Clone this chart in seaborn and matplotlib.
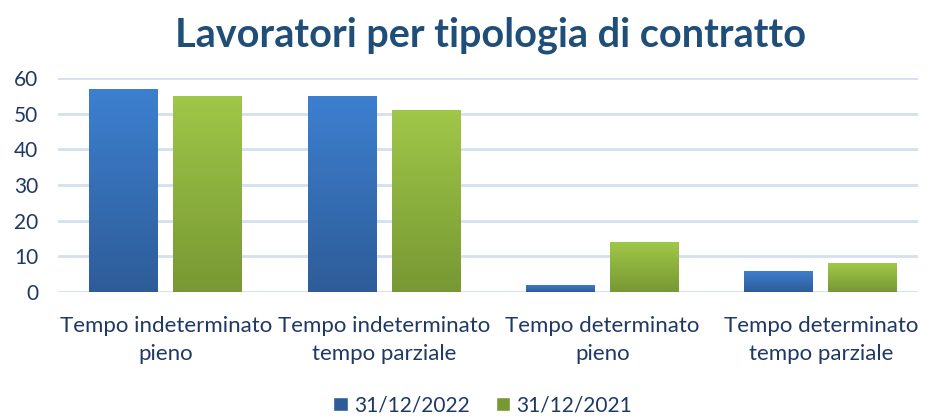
import numpy as np
import pandas as pd
import matplotlib
matplotlib.use("Agg")
import matplotlib.pyplot as plt
import seaborn as sns
from matplotlib.colors import LinearSegmentedColormap
from matplotlib.patches import Patch

categories = ["Tempo indeterminato\npieno", "Tempo indeterminato\ntempo parziale",
              "Tempo determinato\npieno", "Tempo determinato\ntempo parziale"]
series_names = ["31/12/2022", "31/12/2021"]
values_2022 = [57, 55, 2, 6]
values_2021 = [55, 51, 14, 8]
y_ticks = [0, 10, 20, 30, 40, 50, 60]

df = pd.DataFrame({
    "cat": categories * 2,
    "serie": [series_names[0]] * 4 + [series_names[1]] * 4,
    "val": values_2022 + values_2021,
})

sns.set_theme(style="white")
plt.rcParams["font.family"] = ["Lato", "DejaVu Sans"]

text_col = "#1F3864"
fig = plt.figure(figsize=(9.3, 4.19), dpi=100)
ax = fig.add_axes([0.062, 0.303, 0.925, 0.511])

palette = {series_names[0]: "#3A78C4", series_names[1]: "#8DB33F"}
sns.barplot(data=df, x="cat", y="val", hue="serie", palette=palette, ax=ax,
            width=0.77, gap=0.18, legend=False, saturation=1, zorder=3)

grads = {series_names[0]: ("#3D80D0", "#2E5C99"), series_names[1]: ("#A0C748", "#779833")}
xlim = (-0.495, 3.445)
ax.set_ylim(0, 60)
ax.set_xlim(*xlim)
for cont, name in zip(ax.containers, series_names):
    top, bot = grads[name]
    cmap = LinearSegmentedColormap.from_list("g", [bot, top])
    for p in cont.patches:
        x0, y0 = p.get_x(), p.get_y()
        w, h = p.get_width(), p.get_height()
        grad = np.linspace(0, 1, 256).reshape(-1, 1)
        im = ax.imshow(grad, cmap=cmap, origin="lower", aspect="auto",
                       extent=[x0, x0 + w, y0, y0 + h], zorder=4)
        im.set_clip_path(p)
        p.set_facecolor("none")
        p.set_edgecolor("none")
ax.set_xlim(*xlim)
ax.set_ylim(0, 60)

ax.set_yticks(y_ticks)
ax.grid(axis="y", color="#D5DFEE", linewidth=2, zorder=0)
ax.grid(axis="x", visible=False)
for s in ax.spines.values():
    s.set_visible(False)
ax.set_xlabel("")
ax.set_ylabel("")
ax.tick_params(axis="y", labelsize=15, labelcolor=text_col, length=0, pad=14)
ax.tick_params(axis="x", labelsize=16, labelcolor=text_col, length=0, pad=17)
for lbl in ax.get_xticklabels():
    lbl.set_linespacing(1.5)

fig.text(0.527, 0.915, "Lavoratori per tipologia di contratto", ha="center", va="center",
         fontsize=28.5, fontweight="bold", color="#1F4E79")

handles = [Patch(facecolor=grads[n][1], label=n) for n in series_names]
fig.legend(handles=handles, loc="center", bbox_to_anchor=(0.519, 0.033), ncol=2, frameon=False,
           fontsize=15, labelcolor=text_col, handlelength=0.7, handleheight=0.7,
           handletextpad=0.3, columnspacing=1.25)

fig.savefig("out.png", dpi=100)
